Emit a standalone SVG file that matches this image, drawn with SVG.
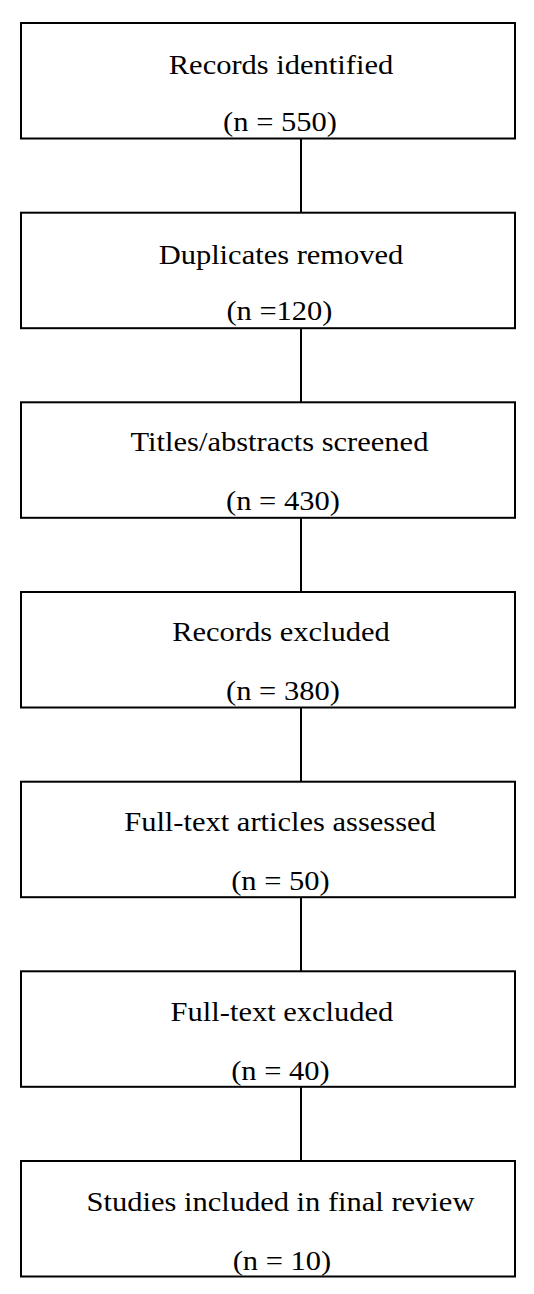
<svg xmlns="http://www.w3.org/2000/svg" width="534" height="1294" viewBox="0 0 534 1294">
<style>
.box{fill:#fff;stroke:#000;stroke-width:2}
.lbl{font-family:"Liberation Serif","Times New Roman",serif;font-size:28px;fill:#000;text-anchor:middle}
.conn{stroke:#000;stroke-width:2;fill:none}
</style>
<rect width="534" height="1294" fill="#fff"/>
<g id="connectors">
<line class="conn" x1="301" y1="138.5" x2="301" y2="212.7"/>
<line class="conn" x1="301" y1="328.2" x2="301" y2="402.3"/>
<line class="conn" x1="301" y1="517.8" x2="301" y2="592"/>
<line class="conn" x1="301" y1="707.5" x2="301" y2="781.7"/>
<line class="conn" x1="301" y1="897.2" x2="301" y2="971.3"/>
<line class="conn" x1="301" y1="1086.8" x2="301" y2="1161"/>
</g>
<g id="node1">
<rect class="box" x="21" y="23" width="494" height="115.5"/>
<g transform="scale(1.09,1)">
<text class="lbl" x="257.8" y="74">Records identified</text>
<text class="lbl" x="256.9" y="131.5">(n = 550)</text>
</g>
</g>
<g id="node2">
<rect class="box" x="21" y="212.7" width="494" height="115.5"/>
<g transform="scale(1.09,1)">
<text class="lbl" x="257.8" y="264">Duplicates removed</text>
<text class="lbl" x="256.4" y="320">(n =120)</text>
</g>
</g>
<g id="node3">
<rect class="box" x="21" y="402.3" width="494" height="115.5"/>
<g transform="scale(1.09,1)">
<text class="lbl" x="256.4" y="451">Titles/abstracts screened</text>
<text class="lbl" x="259.6" y="510">(n = 430)</text>
</g>
</g>
<g id="node4">
<rect class="box" x="21" y="592" width="494" height="115.5"/>
<g transform="scale(1.09,1)">
<text class="lbl" x="257.8" y="641">Records excluded</text>
<text class="lbl" x="259.6" y="700">(n = 380)</text>
</g>
</g>
<g id="node5">
<rect class="box" x="21" y="781.7" width="494" height="115.5"/>
<g transform="scale(1.09,1)">
<text class="lbl" x="256.9" y="831">Full-text articles assessed</text>
<text class="lbl" x="257.3" y="890">(n = 50)</text>
</g>
</g>
<g id="node6">
<rect class="box" x="21" y="971.3" width="494" height="115.5"/>
<g transform="scale(1.09,1)">
<text class="lbl" x="258.7" y="1021">Full-text excluded</text>
<text class="lbl" x="257.3" y="1080">(n = 40)</text>
</g>
</g>
<g id="node7">
<rect class="box" x="21" y="1161" width="494" height="115.5"/>
<g transform="scale(1.09,1)">
<text class="lbl" x="257.3" y="1211">Studies included in final review</text>
<text class="lbl" x="258.7" y="1270">(n = 10)</text>
</g>
</g>
</svg>
